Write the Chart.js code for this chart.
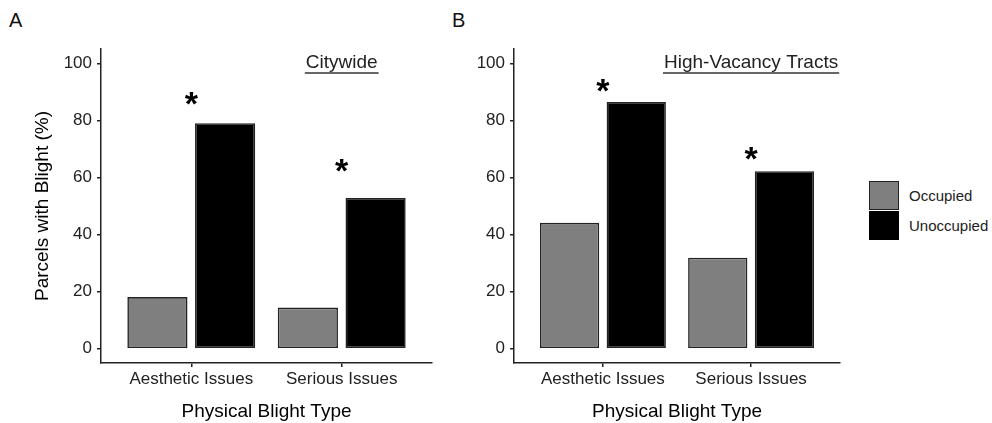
<!DOCTYPE html>
<html>
<head>
<meta charset="utf-8">
<script src="https://cdn.jsdelivr.net/npm/chart.js@4.4.1/dist/chart.umd.min.js"></script>
<style>
  body { margin: 0; background: #fff; font-family: "Liberation Sans", Arial, sans-serif; }
  #wrap { position: relative; width: 992px; height: 423px; overflow: hidden; }
  canvas { position: absolute; top: 0; }
  .panel-tag { position: absolute; font-size: 20px; line-height: 20px; color: #111; }
  #legend { position: absolute; left: 869px; top: 181px; }
  .lg-row { display: flex; align-items: center; height: 29px; margin-bottom: 1px; }
  .lg-box { width: 30px; height: 29px; box-sizing: border-box; border: 1.5px solid #222; }
  .lg-text { margin-left: 10px; font-size: 15px; color: #222; }
</style>
</head>
<body>
<div id="wrap">
  <div class="panel-tag" style="left:9px; top:10px;">A</div>
  <div class="panel-tag" style="left:452px; top:10px;">B</div>
  <canvas id="chartA" width="445" height="423" style="left:0; width:445px; height:423px;"></canvas>
  <canvas id="chartB" width="410" height="423" style="left:445px; width:410px; height:423px;"></canvas>
  <div id="legend"></div>
</div>
<script>
// values (percent of parcels)
const categories = ['Aesthetic Issues', 'Serious Issues'];
const seriesNames = ['Occupied', 'Unoccupied'];
const occupiedA = [18.1, 14.4];
const unoccupiedA = [79.0, 52.8];
const occupiedB = [44.1, 31.9];
const unoccupiedB = [86.4, 62.2];
const yTicks = [0, 20, 40, 60, 80, 100];
const panelTitles = ['Citywide', 'High-Vacancy Tracts'];
// where the significance stars sit (y value of glyph centre)
const starsA = [87.8, 64.3];
const starsB = [92.3, 68.4];

const FONT = '"Liberation Sans", Arial, sans-serif';
const seriesColors = ['#7f7f7f', '#000000'];
const INK = '#222';

// stars + underlined panel title
const annotPlugin = {
  id: 'annot',
  afterDatasetsDraw(chart, args, opts) {
    const ctx = chart.ctx;
    const x = chart.scales.x, y = chart.scales.y;
    const area = chart.chartArea;
    ctx.save();
    ctx.beginPath();
    ctx.rect(area.left, area.top, area.right - area.left, area.bottom - area.top);
    ctx.clip();

    ctx.fillStyle = '#000';
    ctx.font = 'bold 34px ' + FONT;
    ctx.textAlign = 'center';
    ctx.textBaseline = 'alphabetic';
    opts.stars.forEach((v, i) => {
      const m = ctx.measureText('*');
      const cy = y.getPixelForValue(v);
      const base = cy + (m.actualBoundingBoxAscent - m.actualBoundingBoxDescent) / 2;
      ctx.fillText('*', x.getPixelForValue(i + 1), base);
    });

    // title sits over the second category, like the original annotate()
    ctx.font = '19px ' + FONT;
    ctx.fillStyle = INK;
    const tx = x.getPixelForValue(2);
    ctx.fillText(opts.title, tx, y.getPixelForValue(98.4));
    const w = ctx.measureText(opts.title).width;
    const uy = y.getPixelForValue(96.6);
    ctx.strokeStyle = '#333';
    ctx.lineWidth = 1.5;
    ctx.beginPath();
    ctx.moveTo(tx - w / 2 - 1, uy);
    ctx.lineTo(tx + w / 2 + 1, uy);
    ctx.stroke();
    ctx.restore();
  }
};

function makeChart(id, occ, unocc, stars, title, showYTitle, yWidth, pad) {
  const toPts = arr => arr.map((v, i) => ({ x: i + 1, y: v }));
  return new Chart(document.getElementById(id), {
    type: 'bar',
    data: {
      datasets: [
        { label: seriesNames[0], data: toPts(occ), backgroundColor: seriesColors[0] },
        { label: seriesNames[1], data: toPts(unocc), backgroundColor: seriesColors[1] }
      ]
    },
    options: {
      responsive: false,
      animation: false,
      layout: { padding: pad },
      datasets: {
        bar: {
          categoryPercentage: 0.9,
          barPercentage: 0.8 / 0.9,
          borderColor: INK,
          borderWidth: 1.6,
          borderSkipped: false
        }
      },
      plugins: {
        legend: { display: false },
        tooltip: { enabled: false },
        annot: { stars: stars, title: title }
      },
      scales: {
        x: {
          type: 'linear',
          offset: false,
          min: 0.4,
          max: 2.6,
          afterBuildTicks: s => { s.ticks = categories.map((c, i) => ({ value: i + 1 })); },
          afterFit: s => { s.height = 60; },
          ticks: {
            callback: (v, i) => categories[i],
            color: INK,
            padding: 2,
            maxRotation: 0,
            font: { family: FONT, size: 17, lineHeight: 1.2 }
          },
          grid: { display: true, offset: false, drawOnChartArea: false, drawTicks: true, tickLength: 4, color: INK, lineWidth: 1.5 },
          border: { display: true, color: INK, width: 1.5 },
          title: {
            display: true,
            text: 'Physical Blight Type',
            color: '#000',
            padding: 0,
            font: { family: FONT, size: 19, lineHeight: 1.2 }
          }
        },
        y: {
          min: -5,
          max: 105,
          afterBuildTicks: s => { s.ticks = yTicks.map(v => ({ value: v })); },
          afterFit: s => { s.width = yWidth; },
          ticks: {
            color: INK,
            padding: 5,
            font: { family: FONT, size: 17, lineHeight: 1.2 }
          },
          grid: { display: true, drawOnChartArea: false, drawTicks: true, tickLength: 4, color: INK, lineWidth: 1.5 },
          border: { display: true, color: INK, width: 1.5 },
          title: {
            display: showYTitle,
            text: 'Parcels with Blight (%)',
            color: '#000',
            padding: { top: 11, bottom: 0 },
            font: { family: FONT, size: 19, lineHeight: 1.2 }
          }
        }
      }
    },
    plugins: [annotPlugin]
  });
}

makeChart('chartA', occupiedA, unoccupiedA, starsA, panelTitles[0], true, 81,
  { left: 20, top: 49, right: 13, bottom: 0 });
makeChart('chartB', occupiedB, unoccupiedB, starsB, panelTitles[1], false, 69,
  { left: 0, top: 49, right: 15, bottom: 0 });

// legend, stacked keys like the ggplot guide
const legend = document.getElementById('legend');
seriesNames.forEach((name, i) => {
  const row = document.createElement('div');
  row.className = 'lg-row';
  const box = document.createElement('div');
  box.className = 'lg-box';
  box.style.background = seriesColors[i];
  if (i === 1) box.style.borderColor = '#000';
  const txt = document.createElement('span');
  txt.className = 'lg-text';
  txt.textContent = name;
  row.appendChild(box);
  row.appendChild(txt);
  legend.appendChild(row);
});
</script>
</body>
</html>
